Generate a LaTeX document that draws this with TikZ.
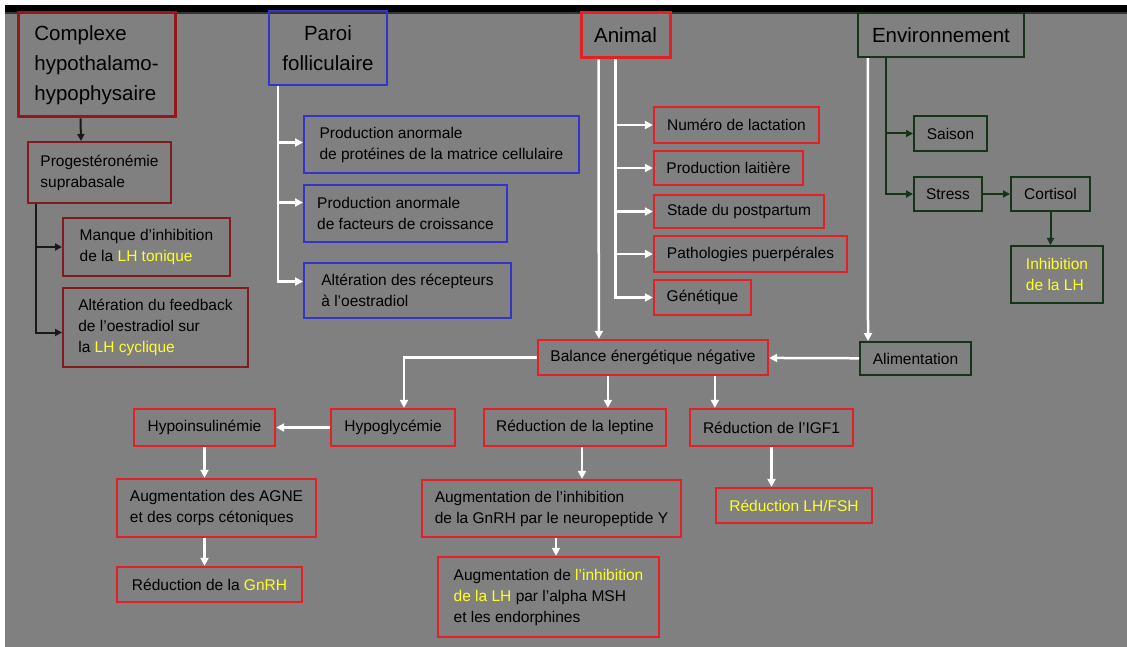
\documentclass[tikz,border=0pt]{standalone}
\usepackage{fontspec}
\setmainfont{Liberation Sans}
\usetikzlibrary{arrows.meta}

\definecolor{bggray}{RGB}{128,128,128}
\definecolor{boxred}{RGB}{226,32,38}
\definecolor{cplxred}{RGB}{150,22,26}
\definecolor{dkred}{RGB}{128,28,30}
\definecolor{bluebrd}{RGB}{52,52,205}
\definecolor{grnbrd}{RGB}{22,52,24}
\definecolor{hlyel}{RGB}{255,255,40}

\begin{document}
\begin{tikzpicture}[x=1pt, y=-1pt,
  txt/.style={font=\fontsize{15.5}{21}\selectfont, align=left, inner sep=0pt},
  redbox/.style={txt, draw=boxred, line width=2.3pt},
  dredbox/.style={txt, draw=dkred, line width=2pt},
  bluebox/.style={txt, draw=bluebrd, line width=2pt},
  grnbox/.style={txt, draw=grnbrd, line width=2pt},
  title/.style={font=\fontsize{20.5}{30}\selectfont, inner sep=0pt, line width=3pt},
  wht/.style={draw=white, line width=2.5pt, -{Triangle[length=8pt,width=8pt]}},
  blk/.style={draw=black!90, line width=2pt, -{Triangle[length=7pt,width=7pt]}},
  grn/.style={draw=grnbrd, line width=2pt, -{Triangle[length=7pt,width=7pt]}}
]
\useasboundingbox (0,0) rectangle (1127,647);

% Background
\fill[bggray] (0,0) rectangle (1127,647);
\fill[white] (0,0) rectangle (5,647);
\fill[white] (0,0) rectangle (1127,5);
\fill[black] (5,5) rectangle (1127,12);
\fill[black!60!bggray] (5,12) rectangle (1127,14);

% Column titles
\node[title, draw=cplxred, align=left, minimum width=157pt, minimum height=104pt] (cplx) at (96.5,65) {Complexe\\hypothalamo-\\hypophysaire};
\node[title, draw=bluebrd, line width=2.3pt, align=center, minimum width=118pt, minimum height=74pt] (paroi) at (328,48) {Paroi\\folliculaire};
\node[title, draw=boxred, minimum width=89pt, minimum height=45pt] (animal) at (625.5,35.5) {Animal};
\node[title, draw=grnbrd, line width=2.3pt, minimum width=166pt, minimum height=44pt] (env) at (941,35) {Environnement};

% Complexe hypothalamo-hypophysaire
\node[dredbox, minimum width=143pt, minimum height=61pt] (prog) at (99.5,172.5) {Progestéronémie\\suprabasale};
\node[dredbox, minimum width=167pt, minimum height=58pt] (manque) at (146.5,247) {Manque d’inhibition\\de la \textcolor{hlyel}{LH tonique}};
\node[dredbox, minimum width=185pt, minimum height=79pt] (alter) at (155.5,327.5) {Altération du feedback\\de l’oestradiol sur\\la \textcolor{hlyel}{LH cyclique}};

% Paroi folliculaire
\node[bluebox, minimum width=275pt, minimum height=57pt] (prot) at (441.5,144.5) {Production anormale\\de protéines de la matrice cellulaire};
\node[bluebox, minimum width=203pt, minimum height=57pt] (fact) at (405.5,213.5) {Production anormale\\de facteurs de croissance};
\node[bluebox, minimum width=207pt, minimum height=55pt] (recep) at (407.5,290.5) {Altération des récepteurs\\à l’oestradiol};

% Animal
\node[redbox, minimum width=165pt, minimum height=36pt] (numero) at (736.5,125) {Numéro de lactation};
\node[redbox, minimum width=149pt, minimum height=34pt] (laitiere) at (728.5,168) {Production laitière};
\node[redbox, minimum width=170pt, minimum height=33pt] (stade) at (739,211.5) {Stade du postpartum};
\node[redbox, minimum width=193pt, minimum height=36pt] (patho) at (750.5,254) {Pathologies puerpérales};
\node[redbox, minimum width=97pt, minimum height=35pt] (genet) at (702.5,297.5) {Génétique};

% Environnement
\node[grnbox, minimum width=73pt, minimum height=35pt] (saison) at (950.5,133.5) {Saison};
\node[grnbox, minimum width=68pt, minimum height=34pt] (stress) at (948,194) {Stress};
\node[grnbox, minimum width=79pt, minimum height=34pt] (cortisol) at (1050.5,194) {Cortisol};
\node[grnbox, minimum width=92pt, minimum height=57pt] (inhib) at (1057,274.5) {\textcolor{hlyel}{Inhibition}\\\textcolor{hlyel}{de la LH}};
\node[grnbox, minimum width=111pt, minimum height=33pt] (alim) at (915.5,358.5) {Alimentation};

% Bilan energetique
\node[redbox, minimum width=230pt, minimum height=35pt] (balance) at (653,357.5) {Balance énergétique négative};
\node[redbox, minimum width=141pt, minimum height=37pt] (hypoins) at (204.5,427.5) {Hypoinsulinémie};
\node[redbox, minimum width=124pt, minimum height=37pt] (hypogly) at (393,427.5) {Hypoglycémie};
\node[redbox, minimum width=182pt, minimum height=37pt] (leptine) at (575,427.5) {Réduction de la leptine};
\node[redbox, minimum width=163pt, minimum height=37pt] (igf) at (771.5,427.5) {Réduction de l’IGF1};
\node[redbox, minimum width=199pt, minimum height=58pt] (agne) at (216.5,508) {Augmentation des AGNE\\et des corps cétoniques};
\node[redbox, minimum width=185pt, minimum height=35pt] (gnrh) at (209.5,584.5) {Réduction de la \textcolor{hlyel}{GnRH}};
\node[redbox, minimum width=259pt, minimum height=57pt] (npy) at (551.5,508.5) {Augmentation de l’inhibition\\de la GnRH par le neuropeptide Y};
\node[redbox, minimum width=221pt, minimum height=80pt] (msh) at (548.5,597) {Augmentation de \textcolor{hlyel}{l’inhibition}\\\textcolor{hlyel}{de la LH} par l’alpha MSH\\et les endorphines};
\node[redbox, minimum width=156pt, minimum height=35pt] (lhfsh) at (794,505.5) {\textcolor{hlyel}{Réduction LH/FSH}};

% Black arrows
\draw[blk] ([xshift=64pt]cplx.south west) -- ([xshift=54pt]prog.north west);
\draw[blk] ([xshift=9pt]prog.south west) |- (manque.west);
\draw[blk] ([xshift=9pt]prog.south west) |- ([yshift=-5pt]alter.west);

% Paroi arrows
\draw[wht] ([xshift=10pt]paroi.south west) |- ([yshift=2pt]prot.west);
\draw[wht] ([xshift=10pt]paroi.south west) |- ([yshift=11pt]fact.west);
\draw[wht] ([xshift=10pt]paroi.south west) |- ([yshift=9pt]recep.west);

% Animal arrows
\draw[wht] ([xshift=19pt]animal.south west) -- ([xshift=62pt]balance.north west);
\draw[wht] ([xshift=36pt]animal.south west) |- (numero.west);
\draw[wht] ([xshift=36pt]animal.south west) |- (laitiere.west);
\draw[wht] ([xshift=36pt]animal.south west) |- (stade.west);
\draw[wht] ([xshift=36pt]animal.south west) |- (patho.west);
\draw[wht] ([xshift=36pt]animal.south west) |- (genet.west);

% Environnement arrows
\draw[grn] ([xshift=29pt]env.south west) |- (saison.west);
\draw[grn] ([xshift=29pt]env.south west) |- (stress.west);
\draw[grn] (stress) -- (cortisol);
\draw[grn] (cortisol.south) -- (cortisol.south |- inhib.north);
\draw[wht] ([xshift=11pt]env.south west) -- ([xshift=9pt]alim.north west);
\draw[wht] (alim) -- (balance);

% Balance arrows
\draw[wht] (balance.west) -| ([xshift=11pt]hypogly.north);
\draw[wht] (hypogly) -- (hypoins);
\draw[wht] ([xshift=71pt]balance.south west) -- ([xshift=71pt]balance.south west |- leptine.north);
\draw[wht] ([xshift=178pt]balance.south west) -- ([xshift=178pt]balance.south west |- igf.north);
\draw[wht] (hypoins.south) -- (hypoins.south |- agne.north);
\draw[wht] (hypoins.south |- agne.south) -- (hypoins.south |- gnrh.north);
\draw[wht] ([xshift=7pt]leptine.south) -- ([xshift=7pt]leptine.south |- npy.north);
\draw[wht] ([xshift=4.5pt]npy.south) -- ([xshift=4.5pt]npy.south |- msh.north);
\draw[wht] (igf.south) -- (igf.south |- lhfsh.north);

\end{tikzpicture}
\end{document}
